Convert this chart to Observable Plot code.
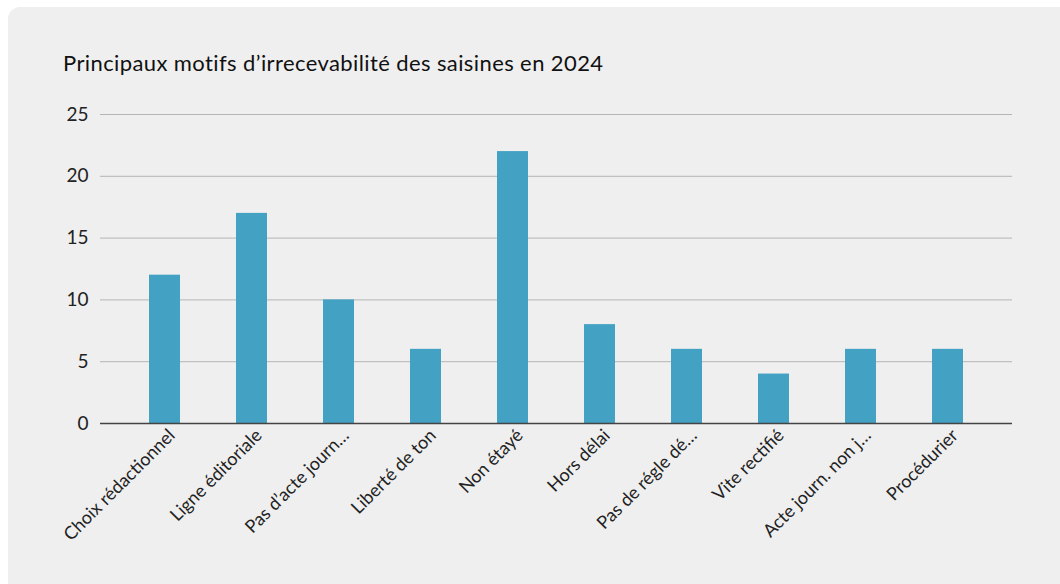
<!DOCTYPE html>
<html><head><meta charset="utf-8">
<script src="https://cdn.jsdelivr.net/npm/d3@7"></script>
<script src="https://cdn.jsdelivr.net/npm/@observablehq/plot@0.6"></script>
<style>
html,body{margin:0;padding:0;background:#fff;width:1060px;height:584px;overflow:hidden;font-family:Lato,"Noto Sans",sans-serif;}
#card{position:absolute;left:8px;top:7px;width:1080px;height:600px;background:#efefef;border-radius:12px;}
#title{position:absolute;left:63px;top:52px;font-size:22px;line-height:1;color:#111;letter-spacing:0.4px;}
#chart{position:absolute;left:0;top:90px;}
</style></head>
<body>
<div id="card"></div>
<div id="title">Principaux motifs d’irrecevabilité des saisines en 2024</div>
<div id="chart"></div>
<script>
const categories = ["Choix rédactionnel","Ligne éditoriale","Pas d’acte journ…","Liberté de ton","Non étayé","Hors délai","Pas de régle dé…","Vite rectifié","Acte journ. non j…","Procédurier"];
const values = [12,17,10,6,22,8,6,4,6,6];
const yTicks = [0,5,10,15,20,25];
const data = categories.map((c,i)=>({motif:c, n:values[i]}));

const chart = Plot.plot({
  width:1060, height:494,
  marginLeft:100, marginRight:48, marginTop:24, marginBottom:161,
  style:{background:"transparent", fontFamily:"Lato, 'Noto Sans', sans-serif", color:"#222"},
  x:{domain:categories, paddingInner:0.644, paddingOuter:0.557},
  y:{domain:[0,25]},
  marks:[
    Plot.gridY(yTicks,{stroke:"#b5b5b5", strokeOpacity:1, strokeWidth:1}),
    Plot.axisY(yTicks,{tickSize:0, tickPadding:12, fontSize:19, label:null, fill:"#222"}),
    Plot.barY(data,{x:"motif", y:"n", fill:"#43a1c3"}),
    Plot.ruleY([0],{stroke:"#444", strokeWidth:1.5}),
    Plot.axisX({tickSize:0, tickRotate:-45, tickPadding:9, dx:7, fontSize:18, label:null, fill:"#222"})
  ]
});
document.getElementById("chart").appendChild(chart);
</script>
</body></html>
